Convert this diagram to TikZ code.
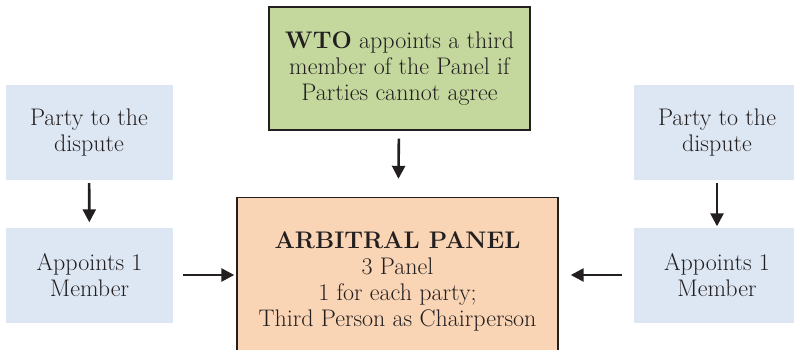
\documentclass[tikz,border=0pt]{standalone}
\usepackage{tikz}
\usetikzlibrary{arrows.meta,positioning}
\usepackage{xcolor}
\definecolor{wtogreen}{RGB}{196,216,158}
\definecolor{panelorange}{RGB}{249,212,181}
\definecolor{partyblue}{RGB}{221,231,243}
\definecolor{edgegray}{RGB}{35,31,32}
\tikzstyle{arrow} = [line width=2.6pt,-{Triangle[length=13pt,width=13pt]},color=edgegray]
\tikzstyle{partybox} = [rectangle, minimum width=167pt, minimum height=95pt, align=center, fill=partyblue, inner sep=0pt, text=edgegray, font=\fontsize{24}{26}\selectfont]
\tikzstyle{wtobox} = [rectangle, minimum width=261pt, minimum height=123pt, align=center, draw=edgegray, fill=wtogreen, line width=1.4pt, inner sep=0pt, text=edgegray, font=\fontsize{24}{26}\selectfont]
\tikzstyle{panelbox} = [rectangle, minimum width=321pt, minimum height=168pt, align=center, draw=edgegray, fill=panelorange, line width=1.4pt, inner sep=0pt, text=edgegray, font=\fontsize{24}{26}\selectfont]

\begin{document}
\begin{tikzpicture}[x=1pt,y=1pt]
\useasboundingbox (0,0) rectangle (794,349);
\clip (0,0) rectangle (794,349);
% boxes
\node[wtobox] (wto) at (399.5,280.5) {\textbf{WTO} appoints a third\\member of the Panel if\\Parties cannot agree};
\node[panelbox] (panel) at (397.5,67.5) {\textbf{ARBITRAL PANEL}\\3 Panel\\1 for each party;\\Third Person as Chairperson};
\node[partybox] (partyL) at (89,216.5) {Party to the\\dispute};
\node[partybox] (apptL) at (89.5,74) {Appoints 1\\Member};
\node[partybox] (partyR) at (717,216.5) {Party to the\\dispute};
\node[partybox] (apptR) at (717,74) {Appoints 1\\Member};

% arrows
\draw[arrow, shorten <=3pt, shorten >=5pt] (partyL) -- (apptL);
\draw[arrow, shorten <=3pt, shorten >=1pt] (partyR) -- (apptR);
\draw[arrow, shorten <=8pt, shorten >=18pt] (wto) -- (panel);
\draw[arrow, shorten <=10pt, shorten >=2pt] (apptL.east) -- (apptL.east -| panel.west);
\draw[arrow, shorten <=11pt, shorten >=12pt] (apptR.west) -- (apptR.west -| panel.east);
\end{tikzpicture}
\end{document}
